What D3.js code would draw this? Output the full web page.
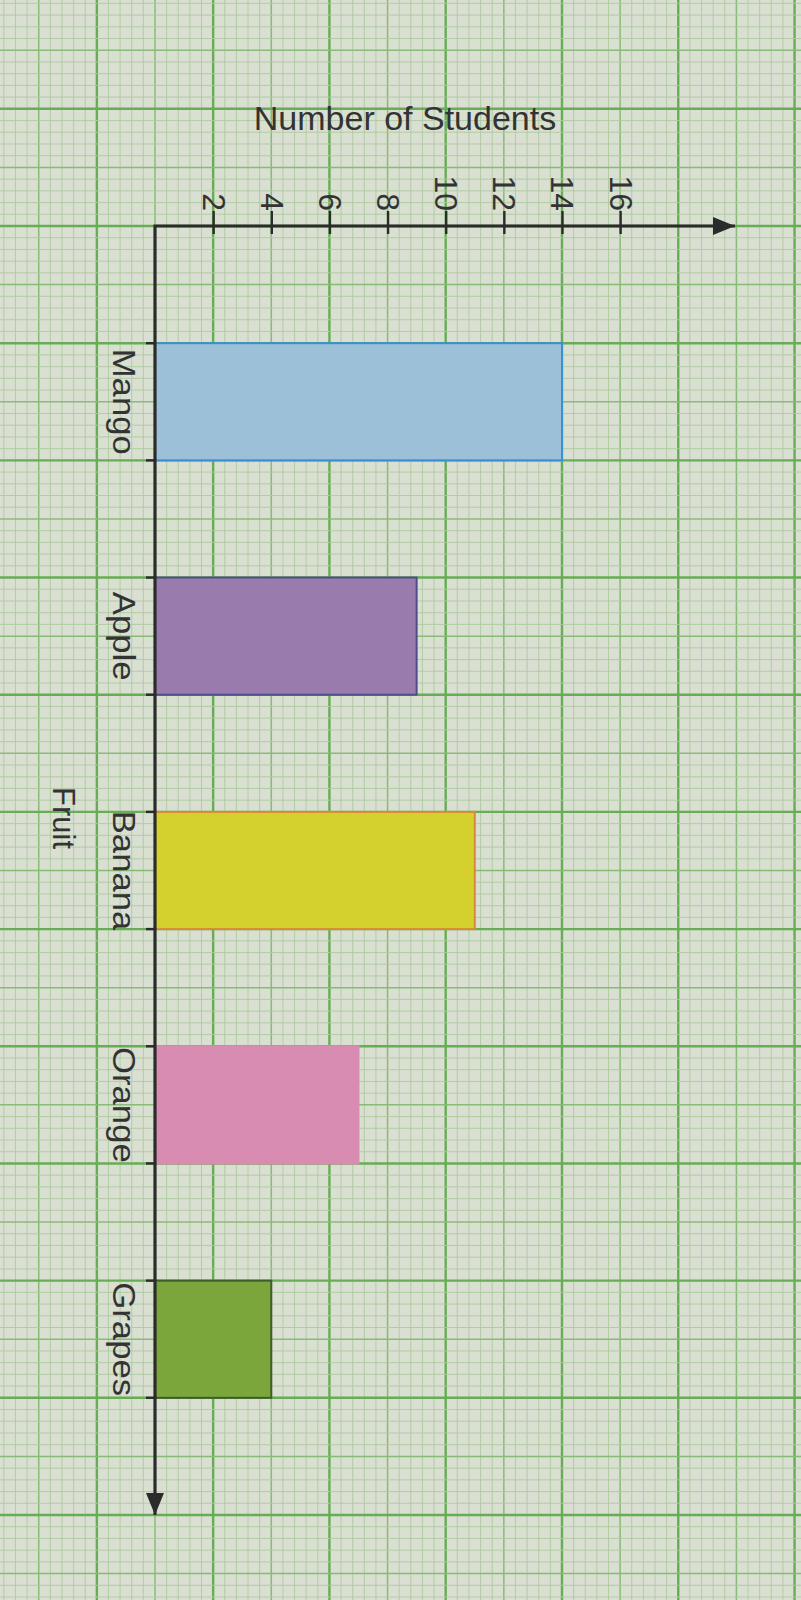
<!DOCTYPE html>
<html>
<head>
<meta charset="utf-8">
<script src="https://cdn.jsdelivr.net/npm/d3@7"></script>
<style>
  body { margin: 0; background: #d9dfd1; }
  svg { display: block; }
  text { font-family: "Liberation Sans", Arial, sans-serif; fill: #333; }
</style>
</head>
<body>
<div id="chart"></div>
<script>
'use strict';

// data
var fruits = ["Mango", "Apple", "Banana", "Orange", "Grapes"];
var students = [14, 9, 11, 7, 4];
var tickValues = [2, 4, 6, 8, 10, 12, 14, 16];
var fills = ["#9dc0d9", "#9a7bae", "#d4d12e", "#d98cb1", "#7ba63b"];
var strokes = ["#3a8ed6", "#4f4c8c", "#d98a34", "#d98cb1", "#3f5c2d"];
var xTitle = "Number of Students", yTitle = "Fruit";

var svgWidth = 801, svgHeight = 1600;
var origin = { x: 155, y: 226 },
    axisEndX = 735, axisEndY = 1515;

var svg = d3.select("#chart")
  .append("svg")
  .attr("width", svgWidth)
  .attr("height", svgHeight);

var x = d3.scaleLinear()
  .domain([0, 16])
  .range([origin.x, origin.x + 16 * 29.07]);

var y = d3.scaleBand()
  .domain(fruits)
  .range([origin.y, axisEndY])
  .paddingInner(0.5)
  .paddingOuter(0.5);

// graph paper background
svg.append("rect")
  .attr("width", svgWidth)
  .attr("height", svgHeight)
  .attr("fill", "#d9dfd1");

var paper = svg.append("g").attr("class", "paper");
var rowStep = y.step() / 2;

function gridStroke(kind) {
  return kind === "major" ? "#67ad55" : kind === "mid" ? "#88bc76" : "#afc9a2";
}
function gridWidth(kind) {
  return kind === "major" ? 2.4 : kind === "mid" ? 1.5 : 0.9;
}

// vertical lines, one every 0.4 unit
d3.range(-40, 180).forEach(function(i) {
  var v = i * 0.4;
  var kind = (Math.abs(i) % 10 === 5) ? "major" : (i % 5 === 0 ? "mid" : "minor");
  paper.append("line")
    .attr("x1", x(v)).attr("x2", x(v))
    .attr("y1", 0).attr("y2", svgHeight)
    .attr("stroke", gridStroke(kind))
    .attr("stroke-width", gridWidth(kind));
});

// horizontal lines, one every tenth of a row
d3.range(-30, 140).forEach(function(i) {
  var yy = origin.y + i * rowStep / 10;
  var kind = (i % 10 === 0) ? "major" : (i % 5 === 0 ? "mid" : "minor");
  paper.append("line")
    .attr("x1", 0).attr("x2", svgWidth)
    .attr("y1", yy).attr("y2", yy)
    .attr("stroke", gridStroke(kind))
    .attr("stroke-width", gridWidth(kind));
});

// bars
svg.selectAll(".bar")
  .data(fruits)
  .enter()
  .append("rect")
  .attr("class", "bar")
  .attr("x", x(0))
  .attr("y", function(d) { return y(d); })
  .attr("width", function(d, i) { return x(students[i]) - x(0); })
  .attr("height", y.bandwidth())
  .attr("fill", function(d, i) { return fills[i]; })
  .attr("stroke", function(d, i) { return strokes[i]; })
  .attr("stroke-width", 2);

// value axis along the top
var xAxisG = svg.append("g")
  .attr("transform", "translate(0," + origin.y + ")")
  .call(d3.axisTop(x).tickValues(tickValues).tickSize(14).tickPadding(4));

xAxisG.select(".domain").remove();
xAxisG.selectAll(".tick line")
  .attr("y2", -15)
  .attr("y1", 8)
  .attr("stroke", "#2b2b2b")
  .attr("stroke-width", 2.4);
xAxisG.selectAll(".tick text")
  .attr("font-size", 32)
  .attr("fill", "#333")
  .attr("text-anchor", "end")
  .attr("dy", null)
  .attr("y", null)
  .attr("transform", "translate(-11,-15) rotate(90)");

// category ticks at band edges
fruits.forEach(function(f) {
  [y(f), y(f) + y.bandwidth()].forEach(function(yy) {
    svg.append("line")
      .attr("x1", origin.x - 9).attr("x2", origin.x)
      .attr("y1", yy).attr("y2", yy)
      .attr("stroke", "#2b2b2b")
      .attr("stroke-width", 2.4);
  });
});

// axis lines with arrows
svg.append("path")
  .attr("d", "M" + axisEndX + "," + origin.y + "H" + origin.x + "V" + axisEndY)
  .attr("fill", "none")
  .attr("stroke", "#2b2b2b")
  .attr("stroke-width", 3.2);

svg.append("path")
  .attr("d", "M" + axisEndX + "," + origin.y + "l-22,-9l0,18z")
  .attr("fill", "#2b2b2b");
svg.append("path")
  .attr("d", "M" + origin.x + "," + axisEndY + "l-9,-22l18,0z")
  .attr("fill", "#2b2b2b");

// category labels (a little stretched along the text, like the photo)
svg.selectAll(".cat")
  .data(fruits)
  .enter()
  .append("text")
  .attr("class", "cat")
  .attr("font-size", 31)
  .attr("text-anchor", "middle")
  .attr("transform", function(d) {
    return "translate(113," + (y(d) + y.bandwidth() / 2) + ") rotate(90) scale(1.12,1)";
  })
  .text(function(d) { return d; });

// titles
svg.append("text")
  .attr("x", 405)
  .attr("y", 130)
  .attr("font-size", 34)
  .attr("text-anchor", "middle")
  .text(xTitle);

svg.append("text")
  .attr("font-size", 31)
  .attr("text-anchor", "middle")
  .attr("transform", "translate(53,818) rotate(90)")
  .text(yTitle);
</script>
</body>
</html>
